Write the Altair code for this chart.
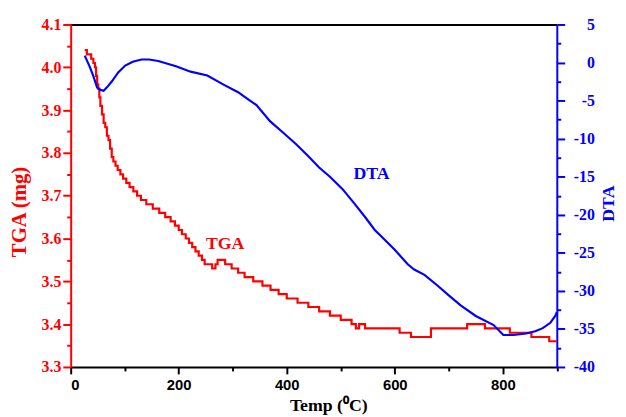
import altair as alt
import pandas as pd

# ---- data ----
tga_temp = [26, 30, 38, 42, 45, 47, 49, 51, 53, 55, 58, 61, 64, 67, 70, 73, 76, 79, 83, 87,
            92, 97, 103, 109, 116, 123, 130, 140, 152, 164, 175, 185, 193, 200, 206, 213, 219,
            225, 231, 237, 243, 248, 262, 268, 272, 286, 298, 310, 322, 338, 355, 370, 385,
            400, 420, 440, 460, 480, 500, 520, 528, 534, 545, 609, 630, 667, 734, 767, 813,
            853, 886, 900]
tga_mass = [4.04, 4.03, 4.02, 4.01, 4.00, 3.98, 3.96, 3.95, 3.93, 3.91, 3.89, 3.87, 3.86, 3.84,
            3.83, 3.81, 3.79, 3.78, 3.77, 3.76, 3.75, 3.74, 3.73, 3.72, 3.71, 3.70, 3.69, 3.68,
            3.67, 3.66, 3.65, 3.64, 3.63, 3.62, 3.61, 3.60, 3.59, 3.58, 3.57, 3.56, 3.55, 3.54,
            3.53, 3.54, 3.55, 3.54, 3.53, 3.52, 3.51, 3.50, 3.49, 3.48, 3.47, 3.46, 3.45, 3.44,
            3.43, 3.42, 3.41, 3.40, 3.39, 3.40, 3.39, 3.38, 3.37, 3.39, 3.40, 3.39, 3.38, 3.37,
            3.36, 3.36]

dta_temp = [26, 35, 42, 49, 55, 61, 68, 76, 88, 101, 115, 131, 145, 162, 195, 222, 253, 283,
            310, 326, 344, 369, 393, 417, 440, 460, 480, 503, 525, 545, 563, 580, 600, 624,
            636, 655, 679, 700, 722, 750, 783, 801, 820, 843, 860, 874, 888, 898, 900]
dta_val = [0.9, -0.5, -1.8, -3.3, -3.6, -3.7, -3.2, -2.5, -1.3, -0.4, 0.1, 0.4, 0.4, 0.2,
           -0.5, -1.2, -1.7, -2.9, -3.9, -4.7, -5.6, -7.7, -9.2, -10.7, -12.3, -13.8, -15.0,
           -16.6, -18.5, -20.3, -22.0, -23.2, -24.6, -26.5, -27.2, -27.9, -29.3, -30.6, -31.9,
           -33.3, -34.5, -35.8, -35.8, -35.6, -35.3, -34.9, -34.2, -33.2, -32.8]

tga_label = {"temp": [286], "tga": [3.586], "text": ["TGA"]}
dta_label = {"temp": [557], "dta": [-14.6], "text": ["DTA"]}

x_major = [0, 200, 400, 600, 800]
x_minor = [100, 300, 500, 700, 900]
tga_major = [3.3, 3.4, 3.5, 3.6, 3.7, 3.8, 3.9, 4.0, 4.1]
tga_minor = [3.35, 3.45, 3.55, 3.65, 3.75, 3.85, 3.95, 4.05]
dta_major = [-40, -35, -30, -25, -20, -15, -10, -5, 0, 5]
dta_minor = [-37.5, -32.5, -27.5, -22.5, -17.5, -12.5, -7.5, -2.5, 2.5]

RED = "#ff0000"
BLUE = "#0000ff"
SERIF = "Liberation Serif"
SANS = "Liberation Sans"

W, H = 492.5, 347

tga_df = pd.DataFrame({"temp": tga_temp, "tga": tga_mass})
dta_df = pd.DataFrame({"temp": dta_temp, "dta": dta_val})

x_scale = alt.Scale(domain=[0, 900], nice=False, zero=False)
tga_scale = alt.Scale(domain=[3.3, 4.1], nice=False, zero=False)
dta_scale = alt.Scale(domain=[-40, 5], nice=False, zero=False)

x_axis = alt.Axis(
    orient="bottom", values=x_major, grid=False, title="Temp (\u2070C)", format="d",
    tickSize=7, domainColor="black", domainWidth=2, tickColor="black", tickWidth=2,
    labelFont=SANS, labelFontWeight="bold", labelFontSize=15, labelColor="black",
    labelPadding=4, titleFont=SERIF, titleFontWeight="bold", titleFontSize=18,
    titleColor="black", titleX=261, titleY=44, titleBaseline="alphabetic",
)
x_minor_axis = alt.Axis(
    orient="bottom", values=x_minor, grid=False, title=None, labels=False, domain=False,
    tickSize=4, tickColor="black", tickWidth=2,
)
top_axis = alt.Axis(orient="top", labels=False, ticks=False, title=None, grid=False,
                    domainColor="black", domainWidth=2)

tga_axis = alt.Axis(
    orient="left", values=tga_major, grid=False, title="TGA (mg)", format=".1f",
    tickSize=8, domainColor=RED, domainWidth=2, tickColor=RED, tickWidth=2,
    labelFont=SERIF, labelFontWeight="bold", labelFontSize=16, labelColor=RED,
    labelPadding=2, titleFont=SERIF, titleFontWeight="bold", titleFontSize=21,
    titleColor=RED, titleX=-46, titleY=189.5, titleBaseline="alphabetic",
)
tga_minor_axis = alt.Axis(
    orient="left", values=tga_minor, grid=False, title=None, labels=False, domain=False,
    tickSize=4, tickColor=RED, tickWidth=2,
)

dta_axis = alt.Axis(
    orient="right", values=dta_major, grid=False, title="DTA",
    labelExpr="datum.value < 0 ? '-' + format(-datum.value, 'd') : format(datum.value, 'd')",
    tickSize=8, domainColor=BLUE, domainWidth=2, tickColor=BLUE, tickWidth=2,
    labelFont=SERIF, labelFontWeight="bold", labelFontSize=16, labelColor=BLUE,
    labelAlign="right", labelPadding=30,
    titleFont=SERIF, titleFontWeight="bold", titleFontSize=18, titleColor=BLUE,
    titleAngle=270, titleX=57, titleY=181, titleBaseline="alphabetic",
)
dta_minor_axis = alt.Axis(
    orient="right", values=dta_minor, grid=False, title=None, labels=False, domain=False,
    tickSize=4, tickColor=BLUE, tickWidth=2,
)

tga_line = alt.Chart(tga_df).mark_line(color=RED, strokeWidth=2.2, interpolate="step-after").encode(
    x=alt.X("temp:Q", scale=x_scale, axis=x_axis),
    y=alt.Y("tga:Q", scale=tga_scale, axis=tga_axis),
)
tga_minor = alt.Chart(tga_df).mark_line(strokeOpacity=0).encode(
    x=alt.X("temp:Q", scale=x_scale, axis=x_minor_axis),
    y=alt.Y("tga:Q", scale=tga_scale, axis=tga_minor_axis),
)
tga_text = alt.Chart(pd.DataFrame(tga_label)).mark_text(
    color=RED, font=SERIF, fontWeight="bold", fontSize=18
).encode(
    x=alt.X("temp:Q", scale=x_scale, axis=None),
    y=alt.Y("tga:Q", scale=tga_scale, axis=None),
    text="text:N",
)

dta_line = alt.Chart(dta_df).mark_line(color=BLUE, strokeWidth=2.2).encode(
    x=alt.X("temp:Q", scale=x_scale, axis=top_axis),
    y=alt.Y("dta:Q", scale=dta_scale, axis=dta_axis),
)
dta_minor = alt.Chart(dta_df).mark_line(strokeOpacity=0).encode(
    x=alt.X("temp:Q", scale=x_scale, axis=None),
    y=alt.Y("dta:Q", scale=dta_scale, axis=dta_minor_axis),
)
dta_text = alt.Chart(pd.DataFrame(dta_label)).mark_text(
    color=BLUE, font=SERIF, fontWeight="bold", fontSize=18
).encode(
    x=alt.X("temp:Q", scale=x_scale, axis=None),
    y=alt.Y("dta:Q", scale=dta_scale, axis=None),
    text="text:N",
)

chart = alt.layer(
    tga_minor, dta_minor, tga_line, dta_line, tga_text, dta_text
).resolve_scale(y="independent").resolve_axis(
    x="independent", y="independent"
).properties(
    width=W, height=H,
    autosize=alt.AutoSizeParams(type="none"),
    padding={"left": 63.5, "top": 14, "right": 62, "bottom": 48},
    background="white",
).configure_view(stroke=None)

chart.save("out.html", embed_options={"renderer": "svg", "actions": False})
